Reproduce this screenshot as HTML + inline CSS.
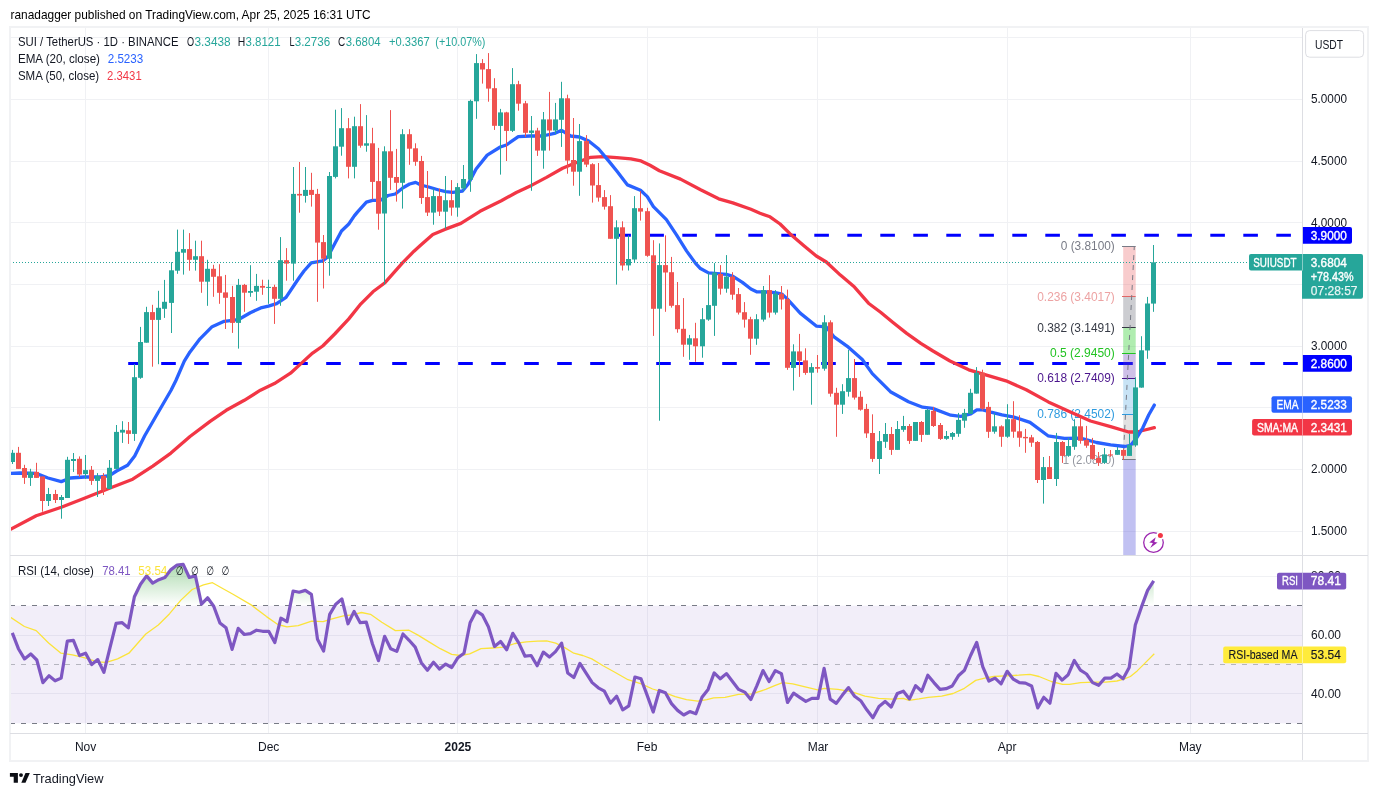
<!DOCTYPE html>
<html><head><meta charset="utf-8"><title>SUI / TetherUS chart</title>
<style>html,body{margin:0;padding:0;background:#fff;}svg{display:block;}text{font-family:"Liberation Sans", sans-serif;}</style></head>
<body><svg width="1378" height="796" viewBox="0 0 1378 796" font-family='"Liberation Sans", sans-serif' shape-rendering="auto"><rect x="0" y="0" width="1378" height="796" fill="#ffffff"/>
<text x="10.5" y="18.8" font-size="13" fill="#000000" textLength="360.0" lengthAdjust="spacingAndGlyphs">ranadagger published on TradingView.com, Apr 25, 2025 16:31 UTC</text>
<line x1="85.5" y1="28" x2="85.5" y2="733" stroke="#f0f1f4" stroke-width="1"/>
<line x1="268.5" y1="28" x2="268.5" y2="733" stroke="#f0f1f4" stroke-width="1"/>
<line x1="457.5" y1="28" x2="457.5" y2="733" stroke="#f0f1f4" stroke-width="1"/>
<line x1="647.5" y1="28" x2="647.5" y2="733" stroke="#f0f1f4" stroke-width="1"/>
<line x1="817.5" y1="28" x2="817.5" y2="733" stroke="#f0f1f4" stroke-width="1"/>
<line x1="1007.5" y1="28" x2="1007.5" y2="733" stroke="#f0f1f4" stroke-width="1"/>
<line x1="1190.5" y1="28" x2="1190.5" y2="733" stroke="#f0f1f4" stroke-width="1"/>
<line x1="10" y1="37.5" x2="1302" y2="37.5" stroke="#f0f1f4" stroke-width="1"/>
<line x1="10" y1="99.5" x2="1302" y2="99.5" stroke="#f0f1f4" stroke-width="1"/>
<line x1="10" y1="161.5" x2="1302" y2="161.5" stroke="#f0f1f4" stroke-width="1"/>
<line x1="10" y1="222.5" x2="1302" y2="222.5" stroke="#f0f1f4" stroke-width="1"/>
<line x1="10" y1="284.5" x2="1302" y2="284.5" stroke="#f0f1f4" stroke-width="1"/>
<line x1="10" y1="346.5" x2="1302" y2="346.5" stroke="#f0f1f4" stroke-width="1"/>
<line x1="10" y1="407.5" x2="1302" y2="407.5" stroke="#f0f1f4" stroke-width="1"/>
<line x1="10" y1="469.5" x2="1302" y2="469.5" stroke="#f0f1f4" stroke-width="1"/>
<line x1="10" y1="531.5" x2="1302" y2="531.5" stroke="#f0f1f4" stroke-width="1"/>
<line x1="10" y1="576.5" x2="1302" y2="576.5" stroke="#f0f1f4" stroke-width="1"/>
<line x1="10" y1="635.5" x2="1302" y2="635.5" stroke="#f0f1f4" stroke-width="1"/>
<line x1="10" y1="693.5" x2="1302" y2="693.5" stroke="#f0f1f4" stroke-width="1"/>
<rect x="10" y="605.7" width="1292" height="117.6" fill="#7e57c2" fill-opacity="0.1"/>
<line x1="10" y1="605.5" x2="1302" y2="605.5" stroke="#787b86" stroke-opacity="1" stroke-width="1" stroke-dasharray="5 6"/>
<line x1="10" y1="664.5" x2="1302" y2="664.5" stroke="#787b86" stroke-opacity="0.5" stroke-width="1" stroke-dasharray="5 6"/>
<line x1="10" y1="723.5" x2="1302" y2="723.5" stroke="#787b86" stroke-opacity="1" stroke-width="1" stroke-dasharray="5 6"/>
<defs><clipPath id="mp"><rect x="10" y="28" width="1292" height="527"/></clipPath><clipPath id="rp"><rect x="10" y="556" width="1292" height="177"/></clipPath><linearGradient id="gg" gradientUnits="userSpaceOnUse" x1="0" y1="556" x2="0" y2="605.6"><stop offset="0" stop-color="#4caf50" stop-opacity="0.55"/><stop offset="1" stop-color="#4caf50" stop-opacity="0"/></linearGradient></defs>
<g clip-path="url(#mp)">
<line x1="616.3" y1="235.3" x2="1302" y2="235.3" stroke="#0000ff" stroke-width="3" stroke-dasharray="14.6 18.4"/>
<line x1="128.2" y1="363.5" x2="1302" y2="363.5" stroke="#0000ff" stroke-width="3" stroke-dasharray="14.6 18.4"/>
<rect x="1123.2" y="246.3" width="12.5" height="50.4" fill="#e8575a" fill-opacity="0.3"/>
<rect x="1123.2" y="296.7" width="12.5" height="31.2" fill="#787b86" fill-opacity="0.38"/>
<rect x="1123.2" y="327.9" width="12.5" height="25.2" fill="#30d030" fill-opacity="0.38"/>
<rect x="1123.2" y="353.1" width="12.5" height="25.2" fill="#673ab7" fill-opacity="0.32"/>
<rect x="1123.2" y="378.3" width="12.5" height="35.9" fill="#4aa3df" fill-opacity="0.3"/>
<rect x="1123.2" y="414.1" width="12.5" height="45.7" fill="#9e9e9e" fill-opacity="0.3"/>
<rect x="1123.2" y="459.8" width="12.5" height="96.2" fill="#3d3dd8" fill-opacity="0.32"/>
<line x1="1122" y1="246.5" x2="1135.7" y2="246.5" stroke="#787b86" stroke-width="1"/>
<line x1="1122" y1="296.5" x2="1135.7" y2="296.5" stroke="#e06666" stroke-width="1"/>
<line x1="1122" y1="327.5" x2="1135.7" y2="327.5" stroke="#363a45" stroke-width="1"/>
<line x1="1122" y1="353.5" x2="1135.7" y2="353.5" stroke="#22c322" stroke-width="1"/>
<line x1="1122" y1="378.5" x2="1135.7" y2="378.5" stroke="#4a148c" stroke-width="1"/>
<line x1="1122" y1="414.5" x2="1135.7" y2="414.5" stroke="#2d9bdf" stroke-width="1"/>
<line x1="1122" y1="459.5" x2="1135.7" y2="459.5" stroke="#787b86" stroke-width="1"/>
<line x1="1123.1" y1="459.8" x2="1134.3" y2="246.3" stroke="#787b86" stroke-width="1" stroke-dasharray="5 5"/>
<text x="1114.8" y="250.3" font-size="12" fill="#787b86" text-anchor="end" textLength="54.0" lengthAdjust="spacingAndGlyphs">0 (3.8100)</text>
<text x="1114.8" y="300.7" font-size="12" fill="#eda3a3" text-anchor="end" textLength="77.6" lengthAdjust="spacingAndGlyphs">0.236 (3.4017)</text>
<text x="1114.8" y="331.9" font-size="12" fill="#363a45" text-anchor="end" textLength="77.6" lengthAdjust="spacingAndGlyphs">0.382 (3.1491)</text>
<text x="1114.8" y="357.1" font-size="12" fill="#22c322" text-anchor="end" textLength="64.7" lengthAdjust="spacingAndGlyphs">0.5 (2.9450)</text>
<text x="1114.8" y="382.3" font-size="12" fill="#4a148c" text-anchor="end" textLength="77.6" lengthAdjust="spacingAndGlyphs">0.618 (2.7409)</text>
<text x="1114.8" y="418.1" font-size="12" fill="#2d9bdf" text-anchor="end" textLength="77.6" lengthAdjust="spacingAndGlyphs">0.786 (2.4502)</text>
<text x="1114.8" y="463.8" font-size="12" fill="#9598a1" text-anchor="end" textLength="52.0" lengthAdjust="spacingAndGlyphs">1 (2.0800)</text>
<path d="M10.5,529.4 L36.2,515.8 L61.3,507.3 L84.4,498.3 L109.5,488.2 L132.7,479.2 L152.8,466.1 L170.9,453.1 L190.0,436.5 L210.1,421.4 L226.2,410.3 L244.3,400.3 L260.4,390.2 L274.4,383.6 L290.5,373.2 L302.6,362.1 L312.6,353.1 L322.7,346.0 L334.7,334.0 L348.8,318.9 L360.9,303.8 L372.9,291.8 L385.0,282.7 L402.5,262.9 L414.0,251.2 L420.0,245.8 L432.8,234.4 L444.8,229.4 L460.9,223.4 L480.0,211.3 L501.3,200.7 L516.3,192.5 L531.4,185.4 L546.5,177.4 L562.6,168.3 L574.6,163.3 L590.7,157.3 L602.8,156.7 L616.8,157.7 L630.9,158.9 L641.0,160.9 L650.0,165.3 L659.4,170.7 L680.5,179.1 L700.6,189.8 L718.7,198.8 L732.8,202.9 L750.9,209.3 L760.0,213.2 L770.0,216.8 L780.1,224.0 L790.2,233.9 L804.2,245.9 L816.3,256.0 L826.3,262.0 L840.4,275.1 L854.5,287.1 L868.5,303.2 L880.6,312.3 L892.7,322.3 L906.7,333.4 L920.8,343.4 L933.0,351.0 L950.0,361.0 L968.8,369.8 L984.9,374.6 L1006.0,380.8 L1026.2,389.8 L1048.3,401.9 L1070.4,411.9 L1090.5,421.0 L1110.6,426.6 L1128.7,432.0 L1136.7,432.0 L1144.8,430.0 L1154.3,427.7" fill="none" stroke="#f23645" stroke-width="3.3" stroke-linejoin="round" stroke-linecap="round"/>
<path d="M10.5,473.4 L20.0,473.0 L36.0,473.4 L48.0,478.0 L61.3,481.6 L70.4,478.0 L84.4,477.0 L100.5,477.0 L109.5,475.6 L116.6,471.0 L127.6,465.3 L134.7,455.9 L144.7,435.8 L156.8,414.7 L170.9,390.5 L175.9,380.5 L184.3,361.2 L190.0,351.9 L200.0,338.8 L212.1,326.7 L224.2,321.3 L238.2,319.7 L250.3,312.7 L260.7,307.9 L268.4,306.1 L276.6,303.7 L286.0,297.3 L294.9,284.0 L300.0,276.5 L304.0,271.0 L311.2,262.9 L322.6,260.9 L327.9,256.6 L334.7,243.8 L341.5,231.0 L348.8,224.0 L354.3,215.9 L357.4,212.1 L366.4,202.2 L372.5,200.4 L380.2,200.4 L388.0,195.5 L395.3,194.0 L403.0,187.7 L409.6,184.0 L415.7,182.4 L420.7,185.0 L428.7,187.0 L438.8,190.0 L445.8,191.6 L452.9,192.4 L462.5,191.0 L468.1,184.2 L476.1,169.0 L487.2,155.1 L500.3,147.0 L506.3,145.0 L518.3,136.6 L530.4,136.0 L542.5,136.0 L554.5,133.4 L561.6,130.3 L570.6,136.0 L579.6,137.0 L588.7,141.0 L598.7,149.0 L608.8,161.1 L616.8,171.0 L627.5,184.9 L640.5,190.2 L647.3,196.6 L653.4,206.7 L666.4,219.7 L676.5,234.8 L686.5,250.9 L695.6,263.4 L700.0,268.2 L708.5,272.9 L726.4,274.4 L733.0,276.4 L742.4,282.4 L750.9,289.0 L756.6,291.8 L766.0,292.0 L775.4,292.7 L782.0,294.1 L786.7,298.4 L800.2,313.1 L816.6,326.2 L826.0,326.8 L834.4,337.2 L848.4,347.2 L862.3,359.5 L872.3,373.6 L890.4,391.7 L908.5,401.8 L922.6,407.2 L932.6,408.4 L950.7,415.2 L960.8,416.4 L970.8,413.8 L976.8,409.8 L982.9,409.8 L990.9,412.1 L1002.0,414.9 L1014.0,417.1 L1030.0,422.4 L1048.0,435.8 L1064.4,438.4 L1080.5,438.2 L1096.5,442.5 L1110.6,444.9 L1124.7,446.5 L1130.7,445.3 L1136.7,437.8 L1142.8,427.8 L1148.8,414.7 L1154.3,405.1" fill="none" stroke="#2962ff" stroke-width="3.3" stroke-linejoin="round" stroke-linecap="round"/>
<rect x="12.0" y="449.9" width="1" height="14.1" fill="#26a69a"/>
<rect x="10.0" y="452.8" width="5" height="9.2" fill="#26a69a"/>
<rect x="18.0" y="446.9" width="1" height="21.9" fill="#ef5350"/>
<rect x="16.0" y="452.8" width="5" height="16.1" fill="#ef5350"/>
<rect x="24.0" y="464.8" width="1" height="19.1" fill="#ef5350"/>
<rect x="22.0" y="468.0" width="5" height="9.8" fill="#ef5350"/>
<rect x="30.0" y="468.8" width="1" height="17.1" fill="#26a69a"/>
<rect x="28.0" y="471.9" width="5" height="6.0" fill="#26a69a"/>
<rect x="36.0" y="462.8" width="1" height="15.1" fill="#ef5350"/>
<rect x="34.0" y="471.9" width="5" height="6.0" fill="#ef5350"/>
<rect x="42.0" y="476.5" width="1" height="35.2" fill="#ef5350"/>
<rect x="40.0" y="476.5" width="5" height="24.5" fill="#ef5350"/>
<rect x="48.0" y="487.9" width="1" height="18.1" fill="#26a69a"/>
<rect x="46.0" y="494.0" width="5" height="7.0" fill="#26a69a"/>
<rect x="55.0" y="489.9" width="1" height="13.1" fill="#ef5350"/>
<rect x="53.0" y="494.0" width="5" height="6.0" fill="#ef5350"/>
<rect x="61.0" y="495.0" width="1" height="23.7" fill="#26a69a"/>
<rect x="59.0" y="497.0" width="5" height="3.0" fill="#26a69a"/>
<rect x="67.0" y="456.8" width="1" height="41.2" fill="#26a69a"/>
<rect x="65.0" y="459.8" width="5" height="38.2" fill="#26a69a"/>
<rect x="73.0" y="453.0" width="1" height="18.9" fill="#26a69a"/>
<rect x="71.0" y="459.0" width="5" height="2.0" fill="#26a69a"/>
<rect x="79.0" y="456.4" width="1" height="20.5" fill="#ef5350"/>
<rect x="77.0" y="458.8" width="5" height="15.7" fill="#ef5350"/>
<rect x="85.0" y="455.0" width="1" height="23.9" fill="#26a69a"/>
<rect x="83.0" y="470.1" width="5" height="4.0" fill="#26a69a"/>
<rect x="91.0" y="466.0" width="1" height="18.9" fill="#ef5350"/>
<rect x="89.0" y="469.8" width="5" height="11.1" fill="#ef5350"/>
<rect x="97.0" y="473.1" width="1" height="23.9" fill="#26a69a"/>
<rect x="95.0" y="475.9" width="5" height="5.0" fill="#26a69a"/>
<rect x="103.0" y="473.1" width="1" height="21.9" fill="#ef5350"/>
<rect x="101.0" y="475.9" width="5" height="14.1" fill="#ef5350"/>
<rect x="109.0" y="460.0" width="1" height="28.9" fill="#26a69a"/>
<rect x="107.0" y="467.8" width="5" height="21.1" fill="#26a69a"/>
<rect x="116.0" y="425.0" width="1" height="43.8" fill="#26a69a"/>
<rect x="114.0" y="431.9" width="5" height="37.0" fill="#26a69a"/>
<rect x="122.0" y="421.2" width="1" height="21.7" fill="#26a69a"/>
<rect x="120.0" y="429.8" width="5" height="2.8" fill="#26a69a"/>
<rect x="128.0" y="422.0" width="1" height="21.9" fill="#ef5350"/>
<rect x="126.0" y="430.3" width="5" height="3.6" fill="#ef5350"/>
<rect x="134.0" y="364.1" width="1" height="76.8" fill="#26a69a"/>
<rect x="132.0" y="377.2" width="5" height="56.7" fill="#26a69a"/>
<rect x="140.0" y="326.9" width="1" height="51.9" fill="#26a69a"/>
<rect x="138.0" y="342.0" width="5" height="35.8" fill="#26a69a"/>
<rect x="146.0" y="306.8" width="1" height="35.8" fill="#26a69a"/>
<rect x="144.0" y="312.1" width="5" height="30.6" fill="#26a69a"/>
<rect x="152.0" y="304.8" width="1" height="61.9" fill="#ef5350"/>
<rect x="150.0" y="312.1" width="5" height="7.8" fill="#ef5350"/>
<rect x="158.0" y="290.8" width="1" height="73.4" fill="#26a69a"/>
<rect x="156.0" y="307.8" width="5" height="12.1" fill="#26a69a"/>
<rect x="164.0" y="279.9" width="1" height="38.0" fill="#26a69a"/>
<rect x="162.0" y="301.8" width="5" height="7.0" fill="#26a69a"/>
<rect x="171.0" y="262.2" width="1" height="70.8" fill="#26a69a"/>
<rect x="169.0" y="270.3" width="5" height="32.6" fill="#26a69a"/>
<rect x="177.0" y="229.6" width="1" height="44.2" fill="#26a69a"/>
<rect x="175.0" y="251.8" width="5" height="18.9" fill="#26a69a"/>
<rect x="183.0" y="229.6" width="1" height="45.0" fill="#26a69a"/>
<rect x="181.0" y="249.1" width="5" height="3.6" fill="#26a69a"/>
<rect x="189.0" y="233.1" width="1" height="37.6" fill="#ef5350"/>
<rect x="187.0" y="249.1" width="5" height="10.7" fill="#ef5350"/>
<rect x="195.0" y="240.7" width="1" height="29.9" fill="#26a69a"/>
<rect x="193.0" y="256.2" width="5" height="3.6" fill="#26a69a"/>
<rect x="201.0" y="240.7" width="1" height="52.1" fill="#ef5350"/>
<rect x="199.0" y="256.2" width="5" height="25.5" fill="#ef5350"/>
<rect x="207.0" y="259.8" width="1" height="46.0" fill="#26a69a"/>
<rect x="205.0" y="268.8" width="5" height="12.9" fill="#26a69a"/>
<rect x="213.0" y="264.8" width="1" height="32.0" fill="#ef5350"/>
<rect x="211.0" y="268.8" width="5" height="8.0" fill="#ef5350"/>
<rect x="219.0" y="264.2" width="1" height="39.6" fill="#ef5350"/>
<rect x="217.0" y="276.3" width="5" height="16.5" fill="#ef5350"/>
<rect x="225.0" y="274.9" width="1" height="54.1" fill="#ef5350"/>
<rect x="223.0" y="292.4" width="5" height="5.4" fill="#ef5350"/>
<rect x="232.0" y="285.9" width="1" height="47.0" fill="#ef5350"/>
<rect x="230.0" y="297.0" width="5" height="25.9" fill="#ef5350"/>
<rect x="238.0" y="278.9" width="1" height="69.7" fill="#26a69a"/>
<rect x="236.0" y="284.9" width="5" height="38.0" fill="#26a69a"/>
<rect x="244.0" y="283.9" width="1" height="27.9" fill="#ef5350"/>
<rect x="242.0" y="284.9" width="5" height="7.8" fill="#ef5350"/>
<rect x="250.0" y="265.2" width="1" height="31.6" fill="#26a69a"/>
<rect x="248.0" y="291.0" width="5" height="1.8" fill="#26a69a"/>
<rect x="256.0" y="273.9" width="1" height="26.9" fill="#26a69a"/>
<rect x="254.0" y="285.9" width="5" height="5.8" fill="#26a69a"/>
<rect x="262.0" y="279.7" width="1" height="15.1" fill="#ef5350"/>
<rect x="260.0" y="285.9" width="5" height="1.8" fill="#ef5350"/>
<rect x="268.0" y="279.7" width="1" height="24.1" fill="#26a69a"/>
<rect x="266.0" y="286.9" width="5" height="1.0" fill="#26a69a"/>
<rect x="274.0" y="284.7" width="1" height="39.2" fill="#ef5350"/>
<rect x="272.0" y="286.9" width="5" height="11.9" fill="#ef5350"/>
<rect x="280.0" y="237.1" width="1" height="68.7" fill="#26a69a"/>
<rect x="278.0" y="260.2" width="5" height="38.6" fill="#26a69a"/>
<rect x="286.0" y="248.1" width="1" height="32.6" fill="#ef5350"/>
<rect x="284.0" y="260.2" width="5" height="3.4" fill="#ef5350"/>
<rect x="293.0" y="167.0" width="1" height="113.7" fill="#26a69a"/>
<rect x="291.0" y="193.9" width="5" height="69.7" fill="#26a69a"/>
<rect x="299.0" y="162.0" width="1" height="50.7" fill="#ef5350"/>
<rect x="297.0" y="193.9" width="5" height="1.6" fill="#ef5350"/>
<rect x="305.0" y="167.0" width="1" height="35.6" fill="#26a69a"/>
<rect x="303.0" y="189.9" width="5" height="6.0" fill="#26a69a"/>
<rect x="311.0" y="172.8" width="1" height="33.8" fill="#ef5350"/>
<rect x="309.0" y="189.9" width="5" height="5.0" fill="#ef5350"/>
<rect x="317.0" y="188.9" width="1" height="112.9" fill="#ef5350"/>
<rect x="315.0" y="193.9" width="5" height="48.7" fill="#ef5350"/>
<rect x="323.0" y="235.0" width="1" height="53.5" fill="#ef5350"/>
<rect x="321.0" y="242.1" width="5" height="16.6" fill="#ef5350"/>
<rect x="329.0" y="172.0" width="1" height="103.7" fill="#26a69a"/>
<rect x="327.0" y="176.0" width="5" height="82.7" fill="#26a69a"/>
<rect x="335.0" y="109.7" width="1" height="68.7" fill="#26a69a"/>
<rect x="333.0" y="146.3" width="5" height="30.6" fill="#26a69a"/>
<rect x="341.0" y="108.1" width="1" height="47.6" fill="#26a69a"/>
<rect x="339.0" y="128.2" width="5" height="18.5" fill="#26a69a"/>
<rect x="348.0" y="118.1" width="1" height="60.3" fill="#ef5350"/>
<rect x="346.0" y="128.2" width="5" height="38.6" fill="#ef5350"/>
<rect x="354.0" y="116.7" width="1" height="61.7" fill="#26a69a"/>
<rect x="352.0" y="126.2" width="5" height="40.6" fill="#26a69a"/>
<rect x="360.0" y="104.1" width="1" height="43.6" fill="#ef5350"/>
<rect x="358.0" y="126.2" width="5" height="19.5" fill="#ef5350"/>
<rect x="366.0" y="115.1" width="1" height="36.6" fill="#26a69a"/>
<rect x="364.0" y="143.3" width="5" height="2.4" fill="#26a69a"/>
<rect x="372.0" y="127.8" width="1" height="71.8" fill="#ef5350"/>
<rect x="370.0" y="143.3" width="5" height="38.6" fill="#ef5350"/>
<rect x="378.0" y="147.9" width="1" height="81.8" fill="#ef5350"/>
<rect x="376.0" y="181.1" width="5" height="32.6" fill="#ef5350"/>
<rect x="384.0" y="146.3" width="1" height="138.2" fill="#26a69a"/>
<rect x="382.0" y="151.3" width="5" height="62.2" fill="#26a69a"/>
<rect x="390.0" y="110.1" width="1" height="79.8" fill="#ef5350"/>
<rect x="388.0" y="151.3" width="5" height="26.5" fill="#ef5350"/>
<rect x="396.0" y="148.9" width="1" height="52.7" fill="#ef5350"/>
<rect x="394.0" y="177.0" width="5" height="5.8" fill="#ef5350"/>
<rect x="402.0" y="129.2" width="1" height="79.4" fill="#26a69a"/>
<rect x="400.0" y="134.2" width="5" height="48.6" fill="#26a69a"/>
<rect x="409.0" y="129.2" width="1" height="35.6" fill="#ef5350"/>
<rect x="407.0" y="134.2" width="5" height="14.5" fill="#ef5350"/>
<rect x="415.0" y="143.3" width="1" height="22.5" fill="#ef5350"/>
<rect x="413.0" y="148.3" width="5" height="13.5" fill="#ef5350"/>
<rect x="421.0" y="155.9" width="1" height="48.0" fill="#ef5350"/>
<rect x="419.0" y="161.0" width="5" height="37.0" fill="#ef5350"/>
<rect x="427.0" y="171.0" width="1" height="45.0" fill="#ef5350"/>
<rect x="425.0" y="197.1" width="5" height="15.5" fill="#ef5350"/>
<rect x="433.0" y="188.5" width="1" height="36.2" fill="#26a69a"/>
<rect x="431.0" y="196.1" width="5" height="16.5" fill="#26a69a"/>
<rect x="439.0" y="188.5" width="1" height="27.5" fill="#ef5350"/>
<rect x="437.0" y="196.1" width="5" height="15.5" fill="#ef5350"/>
<rect x="445.0" y="176.0" width="1" height="52.7" fill="#26a69a"/>
<rect x="443.0" y="200.2" width="5" height="11.5" fill="#26a69a"/>
<rect x="451.0" y="180.1" width="1" height="35.6" fill="#ef5350"/>
<rect x="449.0" y="200.2" width="5" height="7.4" fill="#ef5350"/>
<rect x="457.0" y="183.1" width="1" height="33.6" fill="#26a69a"/>
<rect x="455.0" y="187.1" width="5" height="20.5" fill="#26a69a"/>
<rect x="463.0" y="165.0" width="1" height="26.1" fill="#26a69a"/>
<rect x="461.0" y="179.0" width="5" height="9.4" fill="#26a69a"/>
<rect x="470.0" y="99.7" width="1" height="92.1" fill="#26a69a"/>
<rect x="468.0" y="100.9" width="5" height="78.8" fill="#26a69a"/>
<rect x="476.0" y="54.1" width="1" height="64.7" fill="#26a69a"/>
<rect x="474.0" y="63.1" width="5" height="38.2" fill="#26a69a"/>
<rect x="482.0" y="59.1" width="1" height="24.5" fill="#ef5350"/>
<rect x="480.0" y="63.1" width="5" height="6.4" fill="#ef5350"/>
<rect x="488.0" y="53.1" width="1" height="48.6" fill="#ef5350"/>
<rect x="486.0" y="69.1" width="5" height="19.5" fill="#ef5350"/>
<rect x="494.0" y="78.2" width="1" height="51.7" fill="#ef5350"/>
<rect x="492.0" y="88.2" width="5" height="37.6" fill="#ef5350"/>
<rect x="500.0" y="108.9" width="1" height="65.7" fill="#26a69a"/>
<rect x="498.0" y="112.4" width="5" height="13.5" fill="#26a69a"/>
<rect x="506.0" y="111.8" width="1" height="49.2" fill="#ef5350"/>
<rect x="504.0" y="112.4" width="5" height="18.5" fill="#ef5350"/>
<rect x="512.0" y="68.1" width="1" height="63.9" fill="#26a69a"/>
<rect x="510.0" y="84.2" width="5" height="46.6" fill="#26a69a"/>
<rect x="518.0" y="80.8" width="1" height="29.9" fill="#ef5350"/>
<rect x="516.0" y="84.2" width="5" height="19.5" fill="#ef5350"/>
<rect x="525.0" y="100.9" width="1" height="36.0" fill="#ef5350"/>
<rect x="523.0" y="103.3" width="5" height="29.5" fill="#ef5350"/>
<rect x="531.0" y="116.0" width="1" height="74.8" fill="#26a69a"/>
<rect x="529.0" y="130.5" width="5" height="2.4" fill="#26a69a"/>
<rect x="537.0" y="127.8" width="1" height="28.1" fill="#ef5350"/>
<rect x="535.0" y="130.5" width="5" height="20.1" fill="#ef5350"/>
<rect x="543.0" y="112.0" width="1" height="56.7" fill="#26a69a"/>
<rect x="541.0" y="119.4" width="5" height="31.2" fill="#26a69a"/>
<rect x="549.0" y="91.9" width="1" height="58.7" fill="#ef5350"/>
<rect x="547.0" y="119.4" width="5" height="11.1" fill="#ef5350"/>
<rect x="555.0" y="102.9" width="1" height="31.0" fill="#26a69a"/>
<rect x="553.0" y="119.4" width="5" height="11.1" fill="#26a69a"/>
<rect x="561.0" y="81.8" width="1" height="65.1" fill="#26a69a"/>
<rect x="559.0" y="98.3" width="5" height="21.5" fill="#26a69a"/>
<rect x="567.0" y="94.7" width="1" height="79.0" fill="#ef5350"/>
<rect x="565.0" y="98.3" width="5" height="62.3" fill="#ef5350"/>
<rect x="573.0" y="118.0" width="1" height="67.7" fill="#ef5350"/>
<rect x="571.0" y="160.0" width="5" height="11.7" fill="#ef5350"/>
<rect x="579.0" y="124.0" width="1" height="71.8" fill="#26a69a"/>
<rect x="577.0" y="141.1" width="5" height="30.6" fill="#26a69a"/>
<rect x="586.0" y="135.1" width="1" height="32.0" fill="#ef5350"/>
<rect x="584.0" y="141.1" width="5" height="23.5" fill="#ef5350"/>
<rect x="592.0" y="163.2" width="1" height="39.4" fill="#ef5350"/>
<rect x="590.0" y="164.2" width="5" height="21.3" fill="#ef5350"/>
<rect x="598.0" y="163.0" width="1" height="38.6" fill="#ef5350"/>
<rect x="596.0" y="185.1" width="5" height="12.5" fill="#ef5350"/>
<rect x="604.0" y="190.1" width="1" height="19.5" fill="#ef5350"/>
<rect x="602.0" y="197.1" width="5" height="9.6" fill="#ef5350"/>
<rect x="610.0" y="195.1" width="1" height="43.6" fill="#ef5350"/>
<rect x="608.0" y="206.2" width="5" height="32.6" fill="#ef5350"/>
<rect x="616.0" y="220.3" width="1" height="64.3" fill="#26a69a"/>
<rect x="614.0" y="227.3" width="5" height="11.5" fill="#26a69a"/>
<rect x="622.0" y="221.3" width="1" height="49.2" fill="#ef5350"/>
<rect x="620.0" y="227.3" width="5" height="38.2" fill="#ef5350"/>
<rect x="628.0" y="235.3" width="1" height="35.2" fill="#26a69a"/>
<rect x="626.0" y="259.0" width="5" height="6.4" fill="#26a69a"/>
<rect x="634.0" y="196.1" width="1" height="66.7" fill="#26a69a"/>
<rect x="632.0" y="208.2" width="5" height="51.3" fill="#26a69a"/>
<rect x="640.0" y="191.1" width="1" height="29.5" fill="#ef5350"/>
<rect x="638.0" y="208.2" width="5" height="3.4" fill="#ef5350"/>
<rect x="647.0" y="207.8" width="1" height="49.0" fill="#ef5350"/>
<rect x="645.0" y="211.2" width="5" height="44.6" fill="#ef5350"/>
<rect x="653.0" y="240.2" width="1" height="95.7" fill="#ef5350"/>
<rect x="651.0" y="255.3" width="5" height="53.5" fill="#ef5350"/>
<rect x="659.0" y="243.4" width="1" height="177.3" fill="#26a69a"/>
<rect x="657.0" y="265.1" width="5" height="43.6" fill="#26a69a"/>
<rect x="665.0" y="235.4" width="1" height="76.4" fill="#ef5350"/>
<rect x="663.0" y="265.1" width="5" height="7.4" fill="#ef5350"/>
<rect x="671.0" y="256.9" width="1" height="50.7" fill="#ef5350"/>
<rect x="669.0" y="272.2" width="5" height="33.6" fill="#ef5350"/>
<rect x="677.0" y="282.0" width="1" height="50.7" fill="#ef5350"/>
<rect x="675.0" y="305.1" width="5" height="24.1" fill="#ef5350"/>
<rect x="683.0" y="298.1" width="1" height="58.7" fill="#ef5350"/>
<rect x="681.0" y="328.8" width="5" height="15.9" fill="#ef5350"/>
<rect x="689.0" y="334.9" width="1" height="24.9" fill="#26a69a"/>
<rect x="687.0" y="338.3" width="5" height="6.4" fill="#26a69a"/>
<rect x="695.0" y="322.8" width="1" height="39.0" fill="#ef5350"/>
<rect x="693.0" y="338.3" width="5" height="8.0" fill="#ef5350"/>
<rect x="702.0" y="308.1" width="1" height="49.6" fill="#26a69a"/>
<rect x="700.0" y="319.2" width="5" height="27.1" fill="#26a69a"/>
<rect x="708.0" y="273.2" width="1" height="47.6" fill="#26a69a"/>
<rect x="706.0" y="305.1" width="5" height="14.5" fill="#26a69a"/>
<rect x="714.0" y="263.1" width="1" height="72.8" fill="#26a69a"/>
<rect x="712.0" y="272.6" width="5" height="33.2" fill="#26a69a"/>
<rect x="720.0" y="265.1" width="1" height="29.5" fill="#ef5350"/>
<rect x="718.0" y="274.0" width="5" height="14.7" fill="#ef5350"/>
<rect x="726.0" y="255.1" width="1" height="37.6" fill="#26a69a"/>
<rect x="724.0" y="276.6" width="5" height="12.1" fill="#26a69a"/>
<rect x="732.0" y="272.2" width="1" height="27.5" fill="#ef5350"/>
<rect x="730.0" y="276.6" width="5" height="18.1" fill="#ef5350"/>
<rect x="738.0" y="288.0" width="1" height="26.5" fill="#ef5350"/>
<rect x="736.0" y="294.1" width="5" height="18.5" fill="#ef5350"/>
<rect x="744.0" y="302.1" width="1" height="25.5" fill="#ef5350"/>
<rect x="742.0" y="312.2" width="5" height="7.4" fill="#ef5350"/>
<rect x="750.0" y="316.8" width="1" height="38.0" fill="#ef5350"/>
<rect x="748.0" y="319.2" width="5" height="19.5" fill="#ef5350"/>
<rect x="756.0" y="314.2" width="1" height="30.6" fill="#26a69a"/>
<rect x="754.0" y="319.2" width="5" height="19.5" fill="#26a69a"/>
<rect x="763.0" y="286.0" width="1" height="35.6" fill="#26a69a"/>
<rect x="761.0" y="290.1" width="5" height="29.5" fill="#26a69a"/>
<rect x="769.0" y="275.2" width="1" height="42.4" fill="#ef5350"/>
<rect x="767.0" y="290.1" width="5" height="22.5" fill="#ef5350"/>
<rect x="775.0" y="290.1" width="1" height="24.5" fill="#26a69a"/>
<rect x="773.0" y="293.7" width="5" height="18.9" fill="#26a69a"/>
<rect x="781.0" y="286.0" width="1" height="23.5" fill="#ef5350"/>
<rect x="779.0" y="293.7" width="5" height="5.8" fill="#ef5350"/>
<rect x="787.0" y="289.6" width="1" height="80.2" fill="#ef5350"/>
<rect x="785.0" y="299.1" width="5" height="68.7" fill="#ef5350"/>
<rect x="793.0" y="344.3" width="1" height="46.2" fill="#26a69a"/>
<rect x="791.0" y="351.4" width="5" height="16.5" fill="#26a69a"/>
<rect x="799.0" y="333.9" width="1" height="43.0" fill="#ef5350"/>
<rect x="797.0" y="351.4" width="5" height="9.4" fill="#ef5350"/>
<rect x="805.0" y="348.3" width="1" height="26.5" fill="#ef5350"/>
<rect x="803.0" y="360.4" width="5" height="12.5" fill="#ef5350"/>
<rect x="811.0" y="363.1" width="1" height="41.6" fill="#26a69a"/>
<rect x="809.0" y="367.1" width="5" height="5.6" fill="#26a69a"/>
<rect x="817.0" y="355.0" width="1" height="17.7" fill="#ef5350"/>
<rect x="815.0" y="367.1" width="5" height="1.6" fill="#ef5350"/>
<rect x="824.0" y="315.2" width="1" height="55.5" fill="#26a69a"/>
<rect x="822.0" y="322.3" width="5" height="46.4" fill="#26a69a"/>
<rect x="830.0" y="320.3" width="1" height="76.4" fill="#ef5350"/>
<rect x="828.0" y="322.3" width="5" height="71.4" fill="#ef5350"/>
<rect x="836.0" y="387.8" width="1" height="49.0" fill="#ef5350"/>
<rect x="834.0" y="392.8" width="5" height="11.9" fill="#ef5350"/>
<rect x="842.0" y="384.2" width="1" height="29.7" fill="#26a69a"/>
<rect x="840.0" y="391.2" width="5" height="13.5" fill="#26a69a"/>
<rect x="848.0" y="350.0" width="1" height="46.6" fill="#26a69a"/>
<rect x="846.0" y="378.1" width="5" height="13.7" fill="#26a69a"/>
<rect x="854.0" y="359.0" width="1" height="40.6" fill="#ef5350"/>
<rect x="852.0" y="378.1" width="5" height="19.5" fill="#ef5350"/>
<rect x="860.0" y="391.2" width="1" height="19.5" fill="#ef5350"/>
<rect x="858.0" y="396.8" width="5" height="12.9" fill="#ef5350"/>
<rect x="866.0" y="403.9" width="1" height="34.0" fill="#ef5350"/>
<rect x="864.0" y="408.9" width="5" height="24.5" fill="#ef5350"/>
<rect x="872.0" y="414.3" width="1" height="47.6" fill="#ef5350"/>
<rect x="870.0" y="433.0" width="5" height="25.9" fill="#ef5350"/>
<rect x="879.0" y="431.0" width="1" height="43.0" fill="#26a69a"/>
<rect x="877.0" y="441.1" width="5" height="17.9" fill="#26a69a"/>
<rect x="885.0" y="423.0" width="1" height="24.9" fill="#26a69a"/>
<rect x="883.0" y="434.0" width="5" height="7.8" fill="#26a69a"/>
<rect x="891.0" y="427.0" width="1" height="27.9" fill="#ef5350"/>
<rect x="889.0" y="434.0" width="5" height="15.9" fill="#ef5350"/>
<rect x="897.0" y="421.0" width="1" height="28.9" fill="#26a69a"/>
<rect x="895.0" y="429.0" width="5" height="20.9" fill="#26a69a"/>
<rect x="903.0" y="415.9" width="1" height="15.9" fill="#26a69a"/>
<rect x="901.0" y="426.0" width="5" height="3.8" fill="#26a69a"/>
<rect x="909.0" y="424.0" width="1" height="19.9" fill="#ef5350"/>
<rect x="907.0" y="426.0" width="5" height="14.9" fill="#ef5350"/>
<rect x="915.0" y="422.0" width="1" height="18.9" fill="#26a69a"/>
<rect x="913.0" y="422.0" width="5" height="18.9" fill="#26a69a"/>
<rect x="921.0" y="421.0" width="1" height="20.9" fill="#ef5350"/>
<rect x="919.0" y="422.0" width="5" height="12.9" fill="#ef5350"/>
<rect x="927.0" y="408.9" width="1" height="25.9" fill="#26a69a"/>
<rect x="925.0" y="409.9" width="5" height="24.9" fill="#26a69a"/>
<rect x="933.0" y="406.9" width="1" height="20.1" fill="#ef5350"/>
<rect x="931.0" y="410.9" width="5" height="15.1" fill="#ef5350"/>
<rect x="940.0" y="423.0" width="1" height="16.9" fill="#ef5350"/>
<rect x="938.0" y="425.0" width="5" height="13.9" fill="#ef5350"/>
<rect x="946.0" y="431.0" width="1" height="8.8" fill="#26a69a"/>
<rect x="944.0" y="436.0" width="5" height="2.8" fill="#26a69a"/>
<rect x="952.0" y="432.0" width="1" height="7.8" fill="#26a69a"/>
<rect x="950.0" y="433.0" width="5" height="3.8" fill="#26a69a"/>
<rect x="958.0" y="412.9" width="1" height="23.9" fill="#26a69a"/>
<rect x="956.0" y="419.9" width="5" height="13.9" fill="#26a69a"/>
<rect x="964.0" y="408.9" width="1" height="18.9" fill="#26a69a"/>
<rect x="962.0" y="412.9" width="5" height="7.8" fill="#26a69a"/>
<rect x="970.0" y="388.8" width="1" height="25.1" fill="#26a69a"/>
<rect x="968.0" y="392.8" width="5" height="21.1" fill="#26a69a"/>
<rect x="976.0" y="367.1" width="1" height="26.5" fill="#26a69a"/>
<rect x="974.0" y="372.7" width="5" height="20.9" fill="#26a69a"/>
<rect x="982.0" y="369.7" width="1" height="40.6" fill="#ef5350"/>
<rect x="980.0" y="372.7" width="5" height="36.0" fill="#ef5350"/>
<rect x="988.0" y="401.9" width="1" height="36.0" fill="#ef5350"/>
<rect x="986.0" y="406.9" width="5" height="24.9" fill="#ef5350"/>
<rect x="994.0" y="413.2" width="1" height="20.5" fill="#26a69a"/>
<rect x="992.0" y="426.3" width="5" height="5.4" fill="#26a69a"/>
<rect x="1001.0" y="425.3" width="1" height="21.5" fill="#ef5350"/>
<rect x="999.0" y="426.3" width="5" height="10.5" fill="#ef5350"/>
<rect x="1007.0" y="404.2" width="1" height="33.6" fill="#26a69a"/>
<rect x="1005.0" y="419.2" width="5" height="17.5" fill="#26a69a"/>
<rect x="1013.0" y="401.2" width="1" height="36.6" fill="#ef5350"/>
<rect x="1011.0" y="419.2" width="5" height="12.5" fill="#ef5350"/>
<rect x="1019.0" y="415.2" width="1" height="31.6" fill="#ef5350"/>
<rect x="1017.0" y="431.3" width="5" height="6.4" fill="#ef5350"/>
<rect x="1025.0" y="428.9" width="1" height="23.9" fill="#ef5350"/>
<rect x="1023.0" y="436.9" width="5" height="1.4" fill="#ef5350"/>
<rect x="1031.0" y="434.9" width="1" height="11.9" fill="#ef5350"/>
<rect x="1029.0" y="437.3" width="5" height="5.4" fill="#ef5350"/>
<rect x="1037.0" y="441.0" width="1" height="42.0" fill="#ef5350"/>
<rect x="1035.0" y="442.0" width="5" height="38.0" fill="#ef5350"/>
<rect x="1043.0" y="457.0" width="1" height="46.6" fill="#26a69a"/>
<rect x="1041.0" y="467.1" width="5" height="12.9" fill="#26a69a"/>
<rect x="1049.0" y="456.0" width="1" height="22.9" fill="#ef5350"/>
<rect x="1047.0" y="467.1" width="5" height="11.9" fill="#ef5350"/>
<rect x="1056.0" y="432.9" width="1" height="53.1" fill="#26a69a"/>
<rect x="1054.0" y="442.0" width="5" height="37.0" fill="#26a69a"/>
<rect x="1062.0" y="441.0" width="1" height="21.9" fill="#ef5350"/>
<rect x="1060.0" y="442.0" width="5" height="13.9" fill="#ef5350"/>
<rect x="1068.0" y="437.9" width="1" height="18.9" fill="#26a69a"/>
<rect x="1066.0" y="446.0" width="5" height="9.8" fill="#26a69a"/>
<rect x="1074.0" y="419.2" width="1" height="30.6" fill="#26a69a"/>
<rect x="1072.0" y="426.3" width="5" height="20.5" fill="#26a69a"/>
<rect x="1080.0" y="417.2" width="1" height="26.5" fill="#ef5350"/>
<rect x="1078.0" y="426.3" width="5" height="14.5" fill="#ef5350"/>
<rect x="1086.0" y="425.9" width="1" height="21.9" fill="#ef5350"/>
<rect x="1084.0" y="439.9" width="5" height="5.8" fill="#ef5350"/>
<rect x="1092.0" y="437.9" width="1" height="21.9" fill="#ef5350"/>
<rect x="1090.0" y="445.0" width="5" height="13.9" fill="#ef5350"/>
<rect x="1098.0" y="452.0" width="1" height="13.9" fill="#ef5350"/>
<rect x="1096.0" y="458.0" width="5" height="4.8" fill="#ef5350"/>
<rect x="1104.0" y="448.0" width="1" height="15.9" fill="#26a69a"/>
<rect x="1102.0" y="454.4" width="5" height="8.4" fill="#26a69a"/>
<rect x="1110.0" y="450.0" width="1" height="6.8" fill="#ef5350"/>
<rect x="1108.0" y="454.4" width="5" height="1.0" fill="#ef5350"/>
<rect x="1117.0" y="447.0" width="1" height="7.8" fill="#26a69a"/>
<rect x="1115.0" y="450.0" width="5" height="4.8" fill="#26a69a"/>
<rect x="1123.0" y="449.0" width="1" height="10.9" fill="#ef5350"/>
<rect x="1121.0" y="450.0" width="5" height="5.8" fill="#ef5350"/>
<rect x="1129.0" y="433.9" width="1" height="21.9" fill="#26a69a"/>
<rect x="1127.0" y="445.0" width="5" height="10.9" fill="#26a69a"/>
<rect x="1135.0" y="377.3" width="1" height="69.5" fill="#26a69a"/>
<rect x="1133.0" y="387.4" width="5" height="58.0" fill="#26a69a"/>
<rect x="1141.0" y="336.2" width="1" height="51.5" fill="#26a69a"/>
<rect x="1139.0" y="350.3" width="5" height="37.3" fill="#26a69a"/>
<rect x="1147.0" y="296.9" width="1" height="61.9" fill="#26a69a"/>
<rect x="1145.0" y="303.5" width="5" height="47.0" fill="#26a69a"/>
<rect x="1153.0" y="245.0" width="1" height="66.8" fill="#26a69a"/>
<rect x="1151.0" y="262.3" width="5" height="41.3" fill="#26a69a"/>
<line x1="10" y1="262.5" x2="1302" y2="262.5" stroke="#26a69a" stroke-width="1" stroke-dasharray="1 2"/>
<g transform="translate(1153.5,542.5)"><circle r="9.8" fill="none" stroke="#9c27b0" stroke-width="1.3"/><circle cx="6.9" cy="-7" r="4.3" fill="#ffffff"/><circle cx="6.9" cy="-7" r="2.5" fill="#f23645"/><path d="M2.2,-5.2 L-4.2,0.1 L-0.6,0.4 L-3.3,5.4 L4.1,-0.1 L0.8,-0.6 Z" fill="#9c27b0"/></g>
</g>
<text x="18.0" y="45.8" font-size="13" fill="#131722" textLength="160.5" lengthAdjust="spacingAndGlyphs">SUI / TetherUS · 1D · BINANCE</text>
<text x="187.0" y="45.8" font-size="13" fill="#131722" textLength="7.1" lengthAdjust="spacingAndGlyphs">O</text>
<text x="194.5" y="45.8" font-size="13" fill="#26a69a" textLength="36.2" lengthAdjust="spacingAndGlyphs">3.3438</text>
<text x="237.8" y="45.8" font-size="13" fill="#131722" textLength="7.5" lengthAdjust="spacingAndGlyphs">H</text>
<text x="245.5" y="45.8" font-size="13" fill="#26a69a" textLength="35.1" lengthAdjust="spacingAndGlyphs">3.8121</text>
<text x="289.4" y="45.8" font-size="13" fill="#131722" textLength="5.1" lengthAdjust="spacingAndGlyphs">L</text>
<text x="294.7" y="45.8" font-size="13" fill="#26a69a" textLength="35.5" lengthAdjust="spacingAndGlyphs">3.2736</text>
<text x="338.1" y="45.8" font-size="13" fill="#131722" textLength="7.2" lengthAdjust="spacingAndGlyphs">C</text>
<text x="345.7" y="45.8" font-size="13" fill="#26a69a" textLength="34.9" lengthAdjust="spacingAndGlyphs">3.6804</text>
<text x="389.0" y="45.8" font-size="13" fill="#26a69a" textLength="40.6" lengthAdjust="spacingAndGlyphs">+0.3367</text>
<text x="435.3" y="45.8" font-size="13" fill="#26a69a" textLength="50.0" lengthAdjust="spacingAndGlyphs">(+10.07%)</text>
<text x="17.9" y="62.7" font-size="13" fill="#131722" textLength="82.1" lengthAdjust="spacingAndGlyphs">EMA (20, close)</text>
<text x="107.7" y="62.7" font-size="13" fill="#2962ff" textLength="35.6" lengthAdjust="spacingAndGlyphs">2.5233</text>
<text x="17.9" y="79.7" font-size="13" fill="#131722" textLength="81.3" lengthAdjust="spacingAndGlyphs">SMA (50, close)</text>
<text x="107.1" y="79.7" font-size="13" fill="#f23645" textLength="34.6" lengthAdjust="spacingAndGlyphs">2.3431</text>
<g clip-path="url(#rp)">
<path d="M132.6,605.7 L134.4,596.7 L140.5,584.3 L146.6,575.9 L152.7,583.1 L158.8,579.7 L164.9,577.5 L171.0,569.6 L177.1,565.0 L183.2,564.4 L189.3,577.5 L195.4,575.9 L201.5,604.2 L207.6,597.8 L213.4,605.7 Z" fill="url(#gg)"/>
<path d="M290.2,605.7 L293.1,591.0 L299.2,592.2 L305.3,590.4 L311.4,594.4 L312.9,605.7 Z" fill="url(#gg)"/>
<path d="M334.9,605.7 L335.8,604.2 L341.9,599.0 L343.6,605.7 Z" fill="url(#gg)"/>
<path d="M1141.9,605.7 L1147.6,590.4 L1153.7,580.9 L1153.7,605.7 Z" fill="url(#gg)"/>
<path d="M10.2,617.0 L24.4,626.5 L36.2,630.6 L48.6,643.0 L61.0,653.2 L72.4,654.8 L85.9,658.2 L97.2,661.8 L106.3,662.3 L117.6,658.9 L128.9,653.2 L137.9,643.0 L145.8,634.0 L158.3,625.0 L169.6,613.7 L180.9,600.1 L192.2,589.5 L203.5,584.9 L212.5,582.7 L221.3,587.7 L232.6,594.0 L250.7,604.6 L266.5,616.6 L277.8,624.5 L286.9,626.8 L298.2,625.6 L311.7,621.1 L323.1,621.6 L332.1,618.9 L343.4,615.9 L352.4,614.8 L361.5,612.5 L370.5,614.3 L381.8,622.2 L395.4,630.6 L409.0,630.2 L418.0,635.1 L429.0,641.9 L440.3,648.7 L451.7,654.4 L460.7,655.5 L469.7,653.9 L481.0,648.7 L492.4,648.0 L503.7,647.1 L515.0,643.5 L526.3,641.9 L537.6,641.2 L546.6,640.8 L555.7,643.1 L564.7,647.6 L573.8,653.2 L582.8,655.5 L591.8,658.9 L603.1,665.7 L614.4,672.0 L628.0,679.7 L641.3,683.8 L652.6,689.0 L663.9,692.3 L675.2,696.6 L686.5,699.6 L697.8,701.2 L706.9,699.6 L713.7,697.8 L725.0,697.3 L738.5,694.4 L752.1,693.9 L765.7,689.4 L774.7,685.6 L782.6,682.6 L792.8,683.8 L804.1,686.7 L817.7,689.9 L824.4,688.3 L838.0,689.4 L851.3,691.7 L864.9,696.2 L878.4,698.4 L892.0,699.1 L903.3,698.4 L909.0,700.3 L919.1,698.9 L928.2,697.3 L941.7,696.2 L953.1,693.5 L964.4,688.3 L975.7,680.4 L984.7,678.1 L993.8,676.5 L1005.1,675.8 L1018.6,675.2 L1029.9,674.3 L1039.0,676.5 L1051.3,681.5 L1062.6,684.4 L1069.4,684.4 L1080.7,682.6 L1094.3,682.2 L1105.6,682.2 L1116.9,681.0 L1123.7,679.2 L1130.4,676.5 L1137.2,670.9 L1144.0,664.1 L1154.3,653.8" fill="none" stroke="#fbe33a" stroke-width="1.3" stroke-linejoin="round"/>
<path d="M12.3,632.9 L18.4,648.7 L24.5,658.9 L30.7,653.9 L36.8,660.0 L42.9,682.6 L49.0,675.8 L55.1,680.8 L61.2,678.1 L67.3,641.2 L73.4,640.3 L79.5,655.5 L85.6,653.2 L91.7,664.5 L97.8,659.6 L103.9,672.4 L110.0,647.6 L116.1,623.4 L122.2,622.7 L128.3,627.9 L134.4,596.7 L140.5,584.3 L146.6,575.9 L152.7,583.1 L158.8,579.7 L164.9,577.5 L171.0,569.6 L177.1,565.0 L183.2,564.4 L189.3,577.5 L195.4,575.9 L201.5,604.2 L207.6,597.8 L213.7,606.2 L219.9,622.9 L226.0,627.7 L232.1,649.4 L238.2,628.4 L244.3,634.5 L250.4,633.6 L256.5,630.2 L262.6,631.3 L268.7,631.3 L274.8,642.6 L280.9,618.2 L287.0,621.6 L293.1,591.0 L299.2,592.2 L305.3,590.4 L311.4,594.4 L317.5,639.2 L323.6,651.0 L329.7,614.3 L335.8,604.2 L341.9,599.0 L348.0,623.8 L354.1,611.4 L360.2,622.7 L366.3,622.2 L372.4,643.7 L378.5,660.7 L384.6,636.3 L390.7,648.7 L396.8,651.4 L403.0,634.0 L409.1,640.3 L415.2,647.1 L421.3,662.7 L427.4,670.2 L433.5,662.3 L439.6,669.1 L445.7,664.1 L451.8,667.5 L457.9,657.7 L464.0,653.2 L470.1,622.7 L476.2,610.9 L482.3,614.8 L488.4,626.8 L494.5,646.4 L500.6,641.5 L506.7,649.8 L512.8,633.3 L518.9,643.1 L525.0,656.2 L531.1,655.5 L537.2,665.7 L543.3,652.1 L549.4,657.1 L555.5,651.6 L561.6,643.1 L567.7,672.9 L573.8,677.6 L579.9,663.4 L586.1,673.1 L592.2,682.6 L598.3,687.8 L604.4,691.2 L610.5,703.0 L616.6,696.2 L622.7,709.8 L628.8,705.9 L634.9,677.0 L641.0,678.8 L647.1,695.1 L653.2,712.0 L659.3,690.5 L665.4,692.8 L671.5,703.6 L677.6,710.4 L683.7,715.0 L689.8,711.6 L695.9,713.8 L702.0,697.3 L708.1,689.4 L714.2,672.9 L720.3,678.8 L726.4,673.6 L732.5,681.5 L738.6,689.4 L744.7,692.1 L750.8,699.6 L756.9,685.6 L763.0,670.6 L769.1,681.5 L775.3,670.6 L781.4,673.6 L787.5,702.5 L793.6,693.2 L799.7,697.3 L805.8,701.4 L811.9,698.4 L818.0,698.4 L824.1,668.4 L830.2,699.1 L836.3,703.4 L842.4,695.1 L848.5,687.6 L854.6,696.2 L860.7,700.7 L866.8,709.8 L872.9,717.7 L879.0,706.4 L885.1,701.4 L891.2,707.0 L897.3,693.5 L903.4,691.2 L909.5,698.9 L915.6,685.6 L921.7,691.2 L927.8,675.2 L933.9,682.6 L940.0,689.4 L946.1,688.7 L952.2,686.0 L958.4,675.8 L964.5,670.2 L970.6,655.5 L976.7,642.4 L982.8,666.8 L988.9,681.0 L995.0,678.1 L1001.1,683.8 L1007.2,671.3 L1013.3,679.2 L1019.4,682.6 L1025.5,683.1 L1031.6,686.0 L1037.7,707.9 L1043.8,697.3 L1049.9,703.2 L1056.0,673.3 L1062.1,680.1 L1068.2,674.7 L1074.3,660.5 L1080.4,670.2 L1086.5,674.0 L1092.6,682.6 L1098.7,685.3 L1104.8,678.1 L1110.9,678.1 L1117.0,674.0 L1123.1,678.8 L1129.2,667.5 L1135.3,625.0 L1141.5,606.9 L1147.6,590.4 L1153.7,580.9" fill="none" stroke="#7e57c2" stroke-width="3.2" stroke-linejoin="round" stroke-linecap="butt"/>
</g>
<text x="17.9" y="574.8" font-size="13" fill="#131722" textLength="76.0" lengthAdjust="spacingAndGlyphs">RSI (14, close)</text>
<text x="102.2" y="574.8" font-size="13" fill="#7e57c2" textLength="28.5" lengthAdjust="spacingAndGlyphs">78.41</text>
<text x="138.3" y="574.8" font-size="13" fill="#fbe33a" textLength="29.0" lengthAdjust="spacingAndGlyphs">53.54</text>
<text x="175.8" y="574.8" font-size="12" fill="#131722" textLength="7.6" lengthAdjust="spacingAndGlyphs" font-family="DejaVu Sans, sans-serif" style="font-family:DejaVu Sans, sans-serif">∅</text>
<text x="191.0" y="574.8" font-size="12" fill="#131722" textLength="7.6" lengthAdjust="spacingAndGlyphs" font-family="DejaVu Sans, sans-serif" style="font-family:DejaVu Sans, sans-serif">∅</text>
<text x="206.2" y="574.8" font-size="12" fill="#131722" textLength="7.6" lengthAdjust="spacingAndGlyphs" font-family="DejaVu Sans, sans-serif" style="font-family:DejaVu Sans, sans-serif">∅</text>
<text x="221.4" y="574.8" font-size="12" fill="#131722" textLength="7.6" lengthAdjust="spacingAndGlyphs" font-family="DejaVu Sans, sans-serif" style="font-family:DejaVu Sans, sans-serif">∅</text>
<rect x="10" y="27" width="1358" height="734" fill="none" stroke="#f1f2f4" stroke-width="2"/>
<line x1="10" y1="555.5" x2="1368" y2="555.5" stroke="#dddee3" stroke-width="1"/>
<line x1="10" y1="733.5" x2="1368" y2="733.5" stroke="#dddee3" stroke-width="1"/>
<line x1="1302.5" y1="28" x2="1302.5" y2="760" stroke="#dddee3" stroke-width="1"/>
<text x="1311.0" y="103.1" font-size="12" fill="#131722" textLength="36.0" lengthAdjust="spacingAndGlyphs">5.0000</text>
<text x="1311.0" y="164.8" font-size="12" fill="#131722" textLength="36.0" lengthAdjust="spacingAndGlyphs">4.5000</text>
<text x="1311.0" y="226.5" font-size="12" fill="#131722" textLength="36.0" lengthAdjust="spacingAndGlyphs">4.0000</text>
<text x="1311.0" y="349.9" font-size="12" fill="#131722" textLength="36.0" lengthAdjust="spacingAndGlyphs">3.0000</text>
<text x="1311.0" y="473.3" font-size="12" fill="#131722" textLength="36.0" lengthAdjust="spacingAndGlyphs">2.0000</text>
<text x="1311.0" y="535.0" font-size="12" fill="#131722" textLength="36.0" lengthAdjust="spacingAndGlyphs">1.5000</text>
<text x="1311.0" y="579.9" font-size="12" fill="#131722" textLength="30.0" lengthAdjust="spacingAndGlyphs">80.00</text>
<text x="1311.0" y="638.7" font-size="12" fill="#131722" textLength="30.0" lengthAdjust="spacingAndGlyphs">60.00</text>
<text x="1311.0" y="697.5" font-size="12" fill="#131722" textLength="30.0" lengthAdjust="spacingAndGlyphs">40.00</text>
<rect x="1305.6" y="30.6" width="58" height="26.6" rx="4" fill="#ffffff" stroke="#dddee3" stroke-width="1"/>
<text x="1315.0" y="48.5" font-size="12" fill="#131722" textLength="28.0" lengthAdjust="spacingAndGlyphs">USDT</text>
<path d="M1302.9,227.0 H1350.0 A2,2 0 0 1 1352.0,229.0 V241.8 A2,2 0 0 1 1350.0,243.8 H1302.9 V227.0 Z" fill="#0000ff"/>
<text x="1310.8" y="239.7" font-size="12" fill="#ffffff" textLength="36.0" lengthAdjust="spacingAndGlyphs" stroke="#ffffff" stroke-width="0.35">3.9000</text>
<path d="M1302.9,354.9 H1350.0 A2,2 0 0 1 1352.0,356.9 V369.7 A2,2 0 0 1 1350.0,371.7 H1302.9 V354.9 Z" fill="#0000ff"/>
<text x="1310.8" y="367.6" font-size="12" fill="#ffffff" textLength="36.0" lengthAdjust="spacingAndGlyphs" stroke="#ffffff" stroke-width="0.35">2.8600</text>
<path d="M1251.0,254.0 H1302.0 V270.6 H1251.0 A2,2 0 0 1 1249.0,268.6 V256.0 A2,2 0 0 1 1251.0,254.0 Z" fill="#26a69a"/>
<path d="M1302.0,254.0 H1361.0 A2,2 0 0 1 1363.0,256.0 V296.8 A2,2 0 0 1 1361.0,298.8 H1302.0 V254.0 Z" fill="#26a69a"/>
<line x1="1302.5" y1="254" x2="1302.5" y2="270.6" stroke="#ffffff" stroke-opacity="0.45" stroke-width="1"/>
<text x="1253.3" y="266.6" font-size="12" fill="#ffffff" textLength="43.2" lengthAdjust="spacingAndGlyphs" stroke="#ffffff" stroke-width="0.35">SUIUSDT</text>
<text x="1310.8" y="266.6" font-size="12" fill="#ffffff" textLength="36.0" lengthAdjust="spacingAndGlyphs" stroke="#ffffff" stroke-width="0.35">3.6804</text>
<text x="1310.8" y="280.5" font-size="12" fill="#ffffff" textLength="42.8" lengthAdjust="spacingAndGlyphs" stroke="#ffffff" stroke-width="0.35">+78.43%</text>
<text x="1310.8" y="294.6" font-size="12" fill="#ffffff" textLength="46.7" lengthAdjust="spacingAndGlyphs" fill-opacity="0.85" stroke="#ffffff" stroke-opacity="0.8" stroke-width="0.25">07:28:57</text>
<path d="M1273.5,396.3 H1350.0 A2,2 0 0 1 1352.0,398.3 V410.8 A2,2 0 0 1 1350.0,412.8 H1273.5 A2,2 0 0 1 1271.5,410.8 V398.3 A2,2 0 0 1 1273.5,396.3 Z" fill="#2962ff"/>
<line x1="1302.5" y1="396.3" x2="1302.5" y2="412.8" stroke="#ffffff" stroke-opacity="0.45" stroke-width="1"/>
<text x="1276.5" y="408.9" font-size="12" fill="#ffffff" textLength="22.0" lengthAdjust="spacingAndGlyphs" stroke="#ffffff" stroke-width="0.35">EMA</text>
<text x="1310.8" y="408.9" font-size="12" fill="#ffffff" textLength="36.0" lengthAdjust="spacingAndGlyphs" stroke="#ffffff" stroke-width="0.35">2.5233</text>
<path d="M1254.1,419.1 H1350.0 A2,2 0 0 1 1352.0,421.1 V433.4 A2,2 0 0 1 1350.0,435.4 H1254.1 A2,2 0 0 1 1252.1,433.4 V421.1 A2,2 0 0 1 1254.1,419.1 Z" fill="#f23645"/>
<line x1="1302.5" y1="419.1" x2="1302.5" y2="435.4" stroke="#ffffff" stroke-opacity="0.45" stroke-width="1"/>
<text x="1257.0" y="431.6" font-size="12" fill="#ffffff" textLength="41.0" lengthAdjust="spacingAndGlyphs" stroke="#ffffff" stroke-width="0.35">SMA:MA</text>
<text x="1310.8" y="431.6" font-size="12" fill="#ffffff" textLength="36.0" lengthAdjust="spacingAndGlyphs" stroke="#ffffff" stroke-width="0.35">2.3431</text>
<path d="M1279.0,572.8 H1344.2 A2,2 0 0 1 1346.2,574.8 V587.5 A2,2 0 0 1 1344.2,589.5 H1279.0 A2,2 0 0 1 1277.0,587.5 V574.8 A2,2 0 0 1 1279.0,572.8 Z" fill="#7e57c2"/>
<line x1="1302.5" y1="572.8" x2="1302.5" y2="589.5" stroke="#ffffff" stroke-opacity="0.45" stroke-width="1"/>
<text x="1282.0" y="585.4" font-size="12" fill="#ffffff" textLength="16.0" lengthAdjust="spacingAndGlyphs" stroke="#ffffff" stroke-width="0.35">RSI</text>
<text x="1310.8" y="585.4" font-size="12" fill="#ffffff" textLength="30.0" lengthAdjust="spacingAndGlyphs" stroke="#ffffff" stroke-width="0.35">78.41</text>
<path d="M1225.2,646.5 H1344.2 A2,2 0 0 1 1346.2,648.5 V661.2 A2,2 0 0 1 1344.2,663.2 H1225.2 A2,2 0 0 1 1223.2,661.2 V648.5 A2,2 0 0 1 1225.2,646.5 Z" fill="#ffeb3b"/>
<line x1="1302.5" y1="646.5" x2="1302.5" y2="663.2" stroke="#ffffff" stroke-opacity="0.45" stroke-width="1"/>
<text x="1228.5" y="659.1" font-size="12" fill="#131722" textLength="69.0" lengthAdjust="spacingAndGlyphs" stroke="#131722" stroke-width="0.12">RSI-based MA</text>
<text x="1310.8" y="659.1" font-size="12" fill="#131722" textLength="30.0" lengthAdjust="spacingAndGlyphs" stroke="#131722" stroke-width="0.12">53.54</text>
<text x="85.6" y="750.6" font-size="12" fill="#131722" text-anchor="middle">Nov</text>
<text x="268.7" y="750.6" font-size="12" fill="#131722" text-anchor="middle">Dec</text>
<text x="457.9" y="750.6" font-size="12" fill="#131722" text-anchor="middle" font-weight="bold">2025</text>
<text x="647.1" y="750.6" font-size="12" fill="#131722" text-anchor="middle">Feb</text>
<text x="818.0" y="750.6" font-size="12" fill="#131722" text-anchor="middle">Mar</text>
<text x="1007.2" y="750.6" font-size="12" fill="#131722" text-anchor="middle">Apr</text>
<text x="1190.3" y="750.6" font-size="12" fill="#131722" text-anchor="middle">May</text>
<g fill="#0c0e14"><path d="M9.9,773 H17.9 V782.8 H13.7 V776.75 H9.9 Z"/><circle cx="21" cy="775.1" r="1.95"/><path d="M25.5,773 H29.8 L25.5,782.8 H21.3 Z"/></g>
<text x="33.0" y="782.8" font-size="13.5" fill="#131722" textLength="70.5" lengthAdjust="spacingAndGlyphs">TradingView</text></svg></body></html>
